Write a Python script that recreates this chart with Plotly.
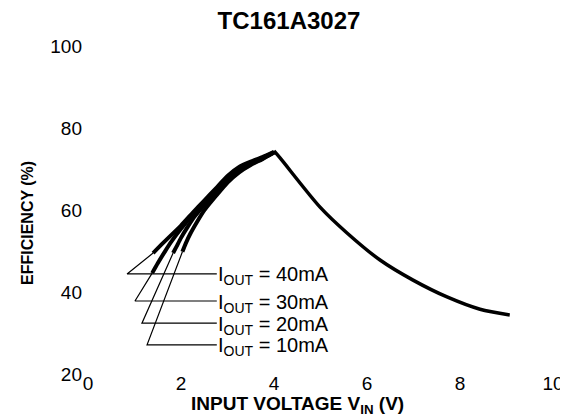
import plotly.graph_objects as go

# ---------------- data ----------------
currents = ["40mA", "30mA", "20mA", "10mA"]

vin_40 = [1.40, 1.6, 1.8, 2.0, 2.25, 2.5, 2.75, 3.0, 3.25, 3.5, 3.75, 4.0]
eff_40 = [49.5, 51.8, 54.0, 56.2, 59.3, 62.3, 65.3, 68.3, 70.5, 71.8, 72.9, 74.2]

vin_30 = [1.38, 1.5, 1.65, 1.8, 2.0, 2.25, 2.5, 2.75, 3.0, 3.25, 3.5, 3.75, 4.0]
eff_30 = [44.6, 47.0, 49.8, 52.4, 55.4, 58.8, 61.9, 64.8, 67.7, 70.0, 71.5, 72.7, 74.1]

vin_20 = [1.83, 1.9, 2.0, 2.15, 2.3, 2.5, 2.75, 3.0, 3.25, 3.5, 3.75, 4.0]
eff_20 = [49.5, 51.0, 53.2, 56.0, 58.5, 61.2, 64.2, 67.2, 69.6, 71.2, 72.5, 74.0]

vin_10 = [2.03, 2.1, 2.2, 2.35, 2.5, 2.75, 3.0, 3.25, 3.5, 3.75, 4.0]
eff_10 = [49.8, 51.8, 54.2, 57.2, 59.9, 63.4, 66.7, 69.2, 71.0, 72.4, 74.0]

# common falling branch above 4 V (all load currents overlap)
vin_fall = [4.0, 4.13, 4.99, 5.57, 6.28, 6.99, 7.72, 8.43, 9.07]
eff_fall = [74.4, 72.7, 60.7, 54.4, 47.8, 42.9, 38.8, 35.8, 34.4]

x_ticks = [0, 2, 4, 6, 8, 10]
y_ticks = [20, 40, 60, 80, 100]

# label leader geometry (annotation placement, in axis units)
label_y = [44.4, 37.8, 32.4, 27.1]
leader_x0 = [0.84, 1.01, 1.16, 1.27]
label_x = 2.77

series = [(vin_40, eff_40), (vin_30, eff_30), (vin_20, eff_20), (vin_10, eff_10)]

FONT = "Liberation Sans, Arial, Helvetica, sans-serif"

fig = go.Figure()

for (vx, vy), name in zip(series, currents):
    fig.add_trace(go.Scatter(x=vx, y=vy, mode="lines", name=name,
                             line=dict(color="black", width=4, shape="spline", smoothing=0.6),
                             showlegend=False, hoverinfo="skip"))

fig.add_trace(go.Scatter(x=vin_fall, y=eff_fall, mode="lines",
                         line=dict(color="black", width=3.5, shape="spline", smoothing=0.8),
                         showlegend=False, hoverinfo="skip"))

# leader lines: curve start -> corner -> label
for (vx, vy), y0, x0, name in zip(series, label_y, leader_x0, currents):
    fig.add_trace(go.Scatter(x=[vx[0], x0, label_x], y=[vy[0], y0, y0], mode="lines",
                             line=dict(color="black", width=1.2),
                             showlegend=False, hoverinfo="skip"))
    fig.add_annotation(x=label_x, y=y0, xref="x", yref="y",
                       text="I<sub>OUT</sub> = " + name, showarrow=False,
                       xanchor="left", yanchor="middle", xshift=-1, yshift=-2,
                       font=dict(family=FONT, size=20, color="black"))

fig.add_annotation(x=(28 - 88) / 465, y=(374 - 223) / 328, xref="paper", yref="paper",
                   text="<b>EFFICIENCY (%)</b>", textangle=-90, showarrow=False,
                   xanchor="center", yanchor="middle",
                   font=dict(family=FONT, size=16, color="black"))

fig.add_annotation(x=(297 - 88) / 465, y=-(405 - 374) / 328, xref="paper", yref="paper",
                   text="<b>INPUT VOLTAGE V<sub>IN</sub> (V)</b>", showarrow=False,
                   xanchor="center", yanchor="middle",
                   font=dict(family=FONT, size=19, color="black"))

# page has an 8 px body margin: figure is sized/placed to compensate
fig.update_layout(
    width=560, height=410,
    margin=dict(l=80, r=15, t=38, b=44, autoexpand=False),
    paper_bgcolor="white", plot_bgcolor="white",
    title=dict(text="<b>TC161A3027</b>", x=281 / 560, y=1 - 12.5 / 410,
               xref="container", yref="container", xanchor="center", yanchor="middle",
               font=dict(family=FONT, size=24, color="black")),
    xaxis=dict(range=[0, 10], tickvals=x_ticks, showgrid=False, zeroline=False,
               showline=False, ticks="", ticklabelstandoff=-4,
               tickfont=dict(family=FONT, size=19, color="black")),
    yaxis=dict(range=[20, 100], tickvals=y_ticks, showgrid=False, zeroline=False,
               showline=False, ticks="", ticklabelstandoff=5,
               tickfont=dict(family=FONT, size=19, color="black")),
)

fig.write_html("out.html")
